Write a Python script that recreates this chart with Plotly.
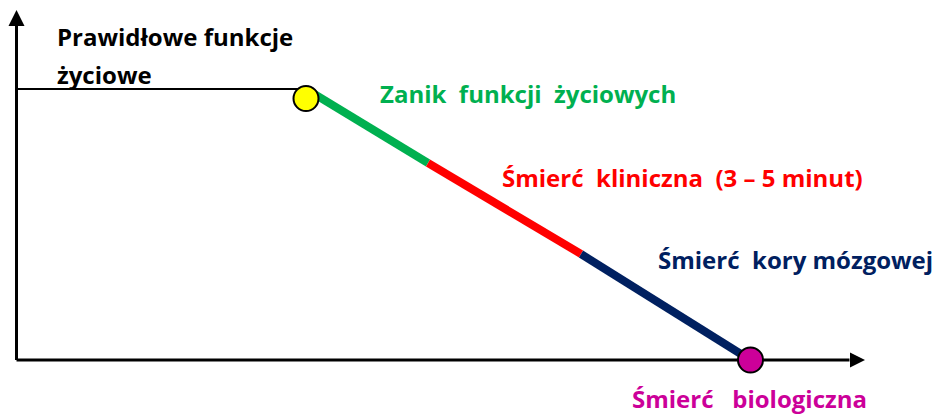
import plotly.graph_objects as go

# ---- data (time units along x, vital-function level along y) ----
normal_time = [0, 289.5]
normal_level = [271, 271]

stage_names = ["Zanik  funkcji  życiowych", "Śmierć  kliniczna  (3 – 5 minut)", "Śmierć  kory mózgowej"]
stage_colors = ["#00B050", "#FF0000", "#002060"]
stage_time = [289.5, 411.5, 564.5, 734]
stage_level = [271, 197, 106, 0]

onset_point = (289.5, 261.5)      # yellow marker
death_point = (734, 0)            # biological death marker

axis_time_end = 833
axis_level_end = 335
arrow_time_tip = 848.5
arrow_level_tip = 350

FONT = "Open Sans"

fig = go.Figure()

# axes
fig.add_trace(go.Scatter(x=[0, 0], y=[0, axis_level_end], mode="lines",
                         line=dict(color="black", width=3), hoverinfo="skip"))
fig.add_trace(go.Scatter(x=[0, axis_time_end], y=[0, 0], mode="lines",
                         line=dict(color="black", width=3), hoverinfo="skip"))
fig.add_trace(go.Scatter(x=[0], y=[arrow_level_tip], mode="markers",
                         marker=dict(symbol="arrow-up", size=16, color="black", line=dict(width=0)),
                         hoverinfo="skip"))
fig.add_trace(go.Scatter(x=[arrow_time_tip], y=[0], mode="markers",
                         marker=dict(symbol="arrow-right", size=15, color="black", line=dict(width=0)),
                         hoverinfo="skip"))

# normal functions line
fig.add_trace(go.Scatter(x=normal_time, y=normal_level, mode="lines",
                         line=dict(color="black", width=2), hoverinfo="skip"))

# decline stages
for i, c in enumerate(stage_colors):
    fig.add_trace(go.Scatter(x=stage_time[i:i + 2], y=stage_level[i:i + 2], mode="lines",
                             line=dict(color=c, width=8), name=stage_names[i], hoverinfo="skip"))

# markers
fig.add_trace(go.Scatter(x=[onset_point[0]], y=[onset_point[1]], mode="markers",
                         marker=dict(size=25, color="#FFFF00", line=dict(color="black", width=2)),
                         hoverinfo="skip"))
fig.add_trace(go.Scatter(x=[death_point[0]], y=[death_point[1]], mode="markers",
                         marker=dict(size=25, color="#CC0099", line=dict(color="black", width=2)),
                         hoverinfo="skip"))

labels = [
    ("Prawidłowe funkcje", 38.5, 323.5, "black"),
    ("życiowe", 38.5, 286, "black"),
    (stage_names[0], 361.5, 267, stage_colors[0]),
    (stage_names[1], 483, 182.5, stage_colors[1]),
    (stage_names[2], 639, 101, stage_colors[2]),
    ("Śmierć   biologiczna", 613.5, -38.5, "#CC0099"),
]
for txt, x, y, col in labels:
    fig.add_annotation(x=x, y=y, xref="x", yref="y", text=txt.replace("  ", "\u00a0 "),
                       showarrow=False, xanchor="left", yanchor="middle",
                       font=dict(family=FONT, size=24, color=col, weight="bold"))

fig.update_layout(
    width=941, height=415,
    margin=dict(l=0, r=0, t=0, b=0),
    paper_bgcolor="white", plot_bgcolor="white",
    showlegend=False,
    xaxis=dict(range=[-16.5, 924.5], visible=False, fixedrange=True),
    yaxis=dict(range=[-55, 360], visible=False, fixedrange=True),
)

fig.write_html("out.html", config={"displayModeBar": False},
               post_script="document.body.style.margin='0';document.body.style.overflow='hidden';")
